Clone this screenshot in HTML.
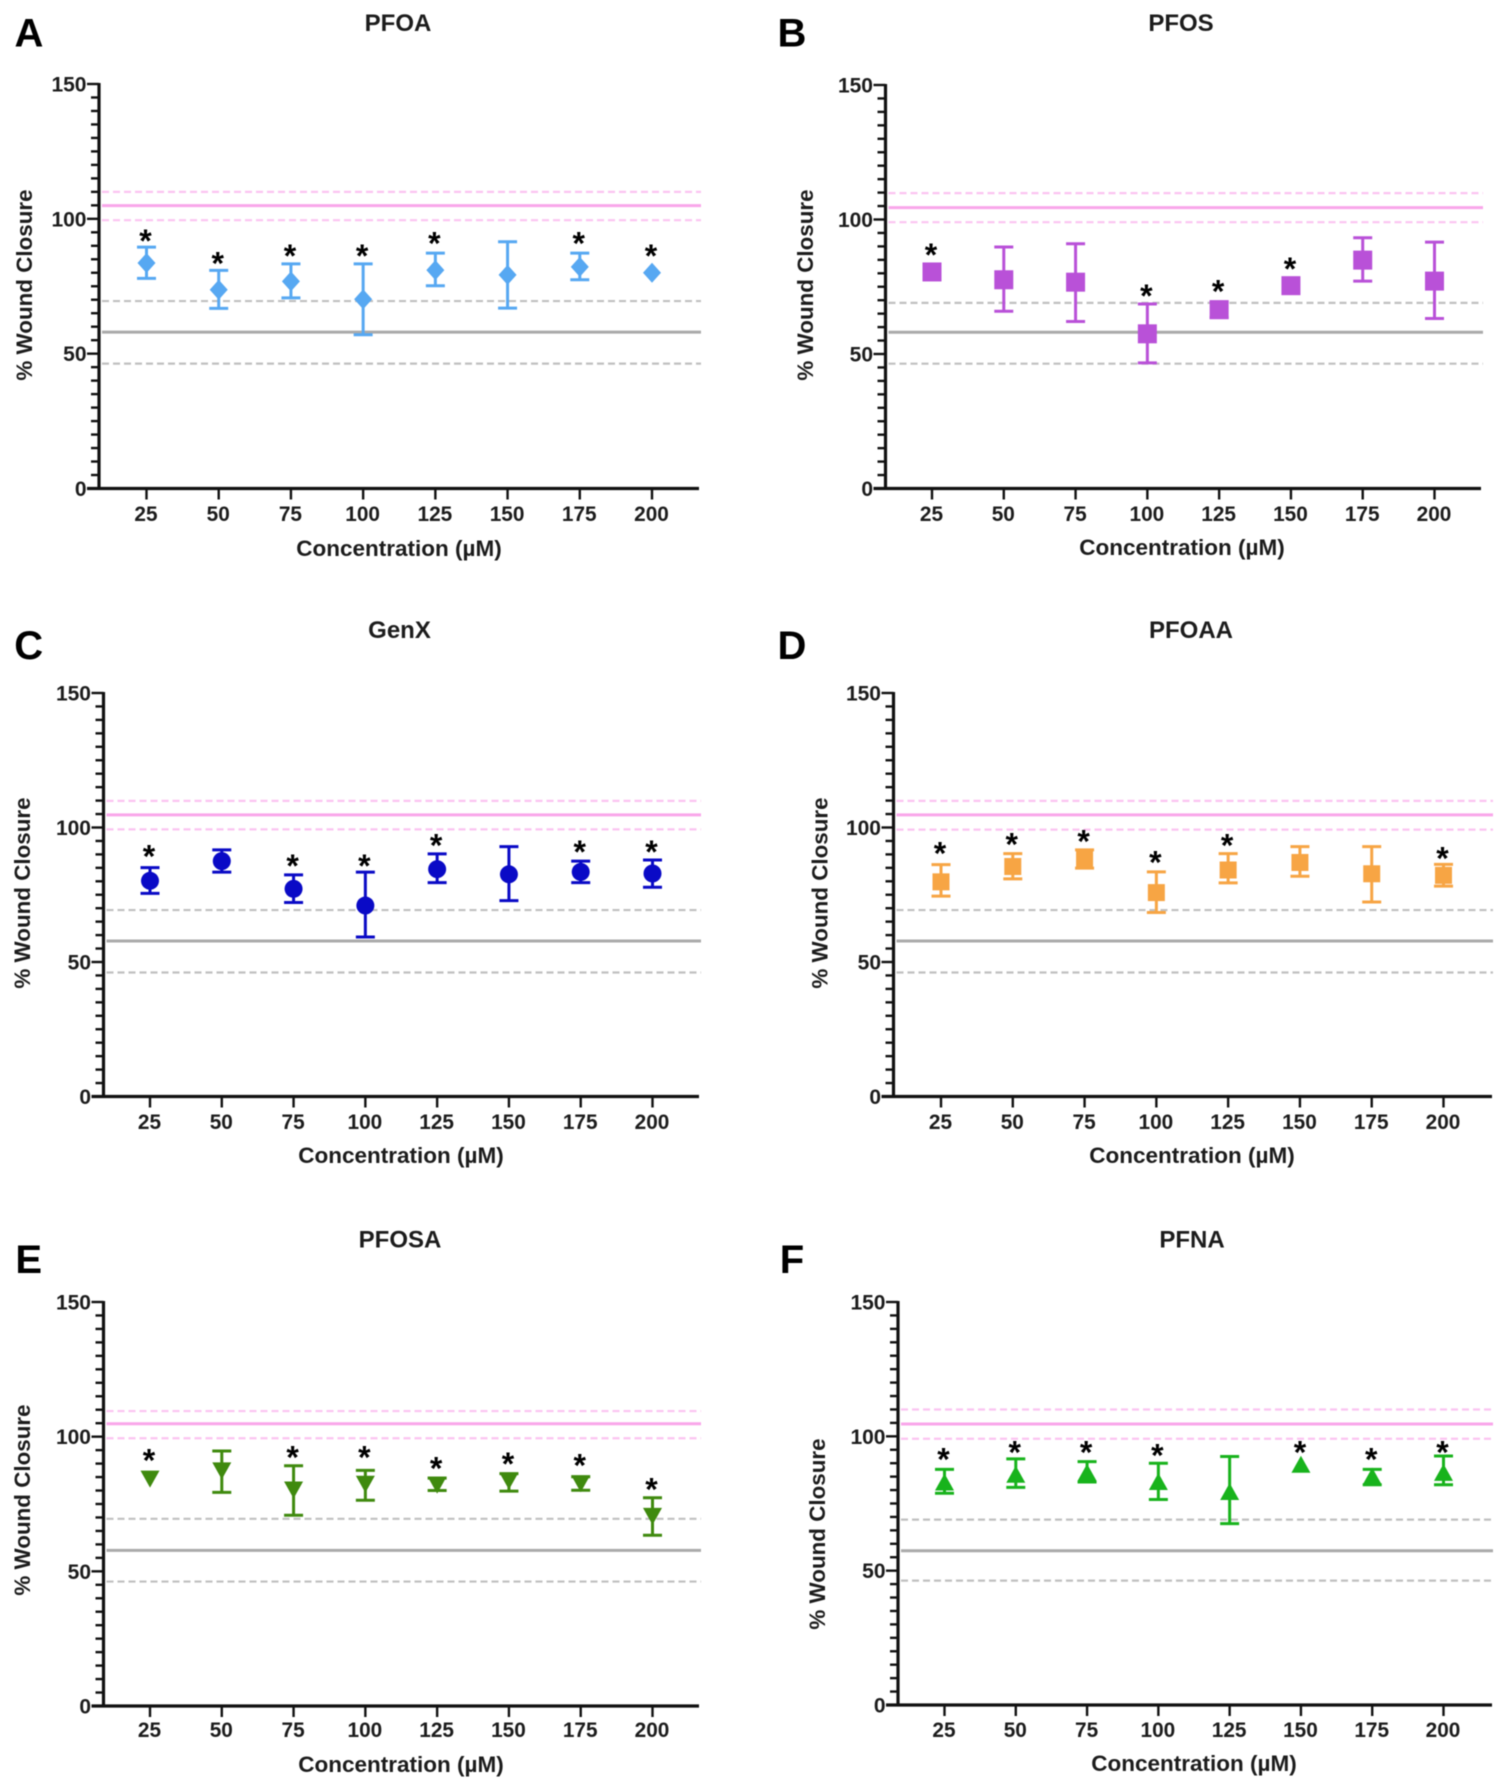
<!DOCTYPE html>
<html>
<head>
<meta charset="utf-8">
<title>Percent wound closure by PFAS compound and concentration</title>
<style>
html,body{margin:0;padding:0;background:#fff;width:1500px;height:1792px;overflow:hidden}
svg{display:block;filter:blur(0.6px)}
text{font-family:"Liberation Sans",Arial,sans-serif;font-weight:bold;fill:#1c1c1c}
</style>
</head>
<body>
<svg id="figure" xmlns="http://www.w3.org/2000/svg" width="1500" height="1792" viewBox="0 0 1500 1792">
<rect x="0" y="0" width="1500" height="1792" fill="#ffffff"/>
</svg>
<script>
// ---- shared axis data ----
const concentrations = [25, 50, 75, 100, 125, 150, 175, 200];
const yTickLabels = [0, 50, 100, 150];
const yMax = 150;
const yMinorStep = 5;

// ---- PFOA ----
const pfoaMean  = [83.6, 73.7, 76.8, 70.2, 81.0, 79.2, 82.2, 80.0];
const pfoaUpper = [89.5, 80.9, 83.3, 83.3, 87.3, 91.5, 87.3, 80.0];
const pfoaLower = [77.9, 66.8, 70.7, 57.0, 75.2, 66.9, 77.4, 80.0];
const pfoaStars = [93.5, 85.1, 87.8, 87.8, 92.5, null, 92.5, 87.8];
const pfoaPinkLines = [110, 104.9, 99.5];
const pfoaGreyLines = [69.5, 58, 46.3];

// ---- PFOS ----
const pfosMean  = [80.5, 77.6, 76.7, 57.5, 66.5, 75.4, 84.9, 77.1];
const pfosUpper = [80.5, 89.8, 91.0, 68.6, 69.3, 75.4, 93.2, 91.6];
const pfosLower = [80.5, 65.9, 62.1, 46.7, 63.5, 75.4, 77.1, 63.2];
const pfosStars = [88.4, null, null, 73.2, 75.0, 83.2, null, null];
const pfosPinkLines = [109.8, 104.4, 99.0];
const pfosGreyLines = [69.0, 58.1, 46.4];

// ---- GenX ----
const genxMean  = [80.2, 87.5, 77.2, 71.0, 84.5, 82.6, 83.5, 82.9];
const genxUpper = [85.1, 91.7, 82.4, 83.4, 90.2, 92.9, 87.5, 87.9];
const genxLower = [75.5, 83.4, 72.1, 59.3, 79.5, 72.8, 79.5, 77.8];
const genxStars = [90.8, null, 87.3, 87.3, 94.9, null, 92.5, 92.5];
const genxPinkLines = [109.9, 104.7, 99.3];
const genxGreyLines = [69.3, 57.8, 46.1];

// ---- PFOAA ----
const pfoaaMean  = [79.8, 85.5, 88.3, 75.8, 84.2, 87.0, 82.8, 82.2];
const pfoaaUpper = [86.2, 90.3, 91.7, 83.5, 90.3, 92.9, 92.9, 86.3];
const pfoaaLower = [74.5, 80.9, 84.9, 68.4, 79.4, 81.9, 72.3, 78.2];
const pfoaaStars = [92.0, 95.3, 96.4, 88.6, 94.9, null, null, 90.2];
const pfoaaPinkLines = [109.9, 104.7, 99.2];
const pfoaaGreyLines = [69.3, 57.8, 46.1];

// ---- PFOSA ----
const pfosaMean  = [84.4, 87.5, 80.4, 82.5, 82.2, 83.7, 82.7, 70.6];
const pfosaUpper = [84.4, 94.7, 89.2, 87.5, 84.6, 86.3, 85.1, 77.3];
const pfosaLower = [84.4, 79.3, 70.8, 76.4, 80.0, 79.8, 80.1, 63.4];
const pfosaStars = [92.9, null, 93.9, 93.9, 89.9, 91.6, 91.0, 82.0];
const pfosaPinkLines = [109.5, 104.8, 99.4];
const pfosaGreyLines = [69.5, 57.8, 46.2];

// ---- PFNA ----
const pfnaMean  = [82.8, 85.7, 86.4, 83.0, 79.3, 89.4, 85.0, 86.4];
const pfnaUpper = [87.7, 91.6, 90.6, 90.0, 92.5, 89.4, 87.7, 92.7];
const pfnaLower = [78.8, 81.0, 83.0, 76.5, 67.5, 89.4, 82.0, 82.0];
const pfnaStars = [93.0, 95.7, 95.7, 94.6, null, 95.7, 93.0, 95.7];
const pfnaPinkLines = [110, 104.6, 99.1];
const pfnaGreyLines = [69.0, 57.4, 46.3];

// ---- panel layout ----
const panels = [
  {key:'pfoa', letter:'A', title:'PFOA', marker:'diamond', color:'#57a8f2', mean:pfoaMean, upper:pfoaUpper, lower:pfoaLower, stars:pfoaStars, pink:pfoaPinkLines, grey:pfoaGreyLines,
   axisX:99, axisEnd:699, x25:146.5, x200:652, y0:488.5, yTop:84, lineEnd:701, letterX:29, letterY:46.7, titleX:398, titleY:31, tickY:521, xTitleX:399, xTitleY:556, yTitleX:32, yTitleY:285},
  {key:'pfos', letter:'B', title:'PFOS', marker:'square', color:'#b951d8', mean:pfosMean, upper:pfosUpper, lower:pfosLower, stars:pfosStars, pink:pfosPinkLines, grey:pfosGreyLines,
   axisX:885.5, axisEnd:1481, x25:932, x200:1434.5, y0:488.5, yTop:85, lineEnd:1483, letterX:792, letterY:46.7, titleX:1181, titleY:31, tickY:521, xTitleX:1182, xTitleY:555, yTitleX:813, yTitleY:285},
  {key:'genx', letter:'C', title:'GenX', marker:'circle', color:'#0a0ac6', mean:genxMean, upper:genxUpper, lower:genxLower, stars:genxStars, pink:genxPinkLines, grey:genxGreyLines,
   axisX:103.5, axisEnd:699, x25:150, x200:652.5, y0:1096.5, yTop:693, lineEnd:701, letterX:28.7, letterY:659, titleX:399.5, titleY:638, tickY:1129, xTitleX:401, xTitleY:1163, yTitleX:30, yTitleY:893},
  {key:'pfoaa', letter:'D', title:'PFOAA', marker:'square-small', color:'#f7a544', mean:pfoaaMean, upper:pfoaaUpper, lower:pfoaaLower, stars:pfoaaStars, pink:pfoaaPinkLines, grey:pfoaaGreyLines,
   axisX:893.5, axisEnd:1492, x25:941, x200:1443.5, y0:1096.5, yTop:693, lineEnd:1493, letterX:792, letterY:659, titleX:1191, titleY:638, tickY:1129, xTitleX:1192, xTitleY:1163, yTitleX:827.5, yTitleY:893},
  {key:'pfosa', letter:'E', title:'PFOSA', marker:'triangle-down', color:'#3f8a0e', mean:pfosaMean, upper:pfosaUpper, lower:pfosaLower, stars:pfosaStars, pink:pfosaPinkLines, grey:pfosaGreyLines,
   axisX:103.5, axisEnd:699, x25:150, x200:652.5, y0:1706, yTop:1302, lineEnd:701, letterX:28.7, letterY:1273, titleX:400, titleY:1247.5, tickY:1737, xTitleX:401, xTitleY:1772, yTitleX:30, yTitleY:1500},
  {key:'pfna', letter:'F', title:'PFNA', marker:'triangle-up', color:'#18b31c', mean:pfnaMean, upper:pfnaUpper, lower:pfnaLower, stars:pfnaStars, pink:pfnaPinkLines, grey:pfnaGreyLines,
   axisX:898, axisEnd:1492, x25:944.5, x200:1443.5, y0:1705, yTop:1302, lineEnd:1493, letterX:792, letterY:1273, titleX:1192, titleY:1247.5, tickY:1737, xTitleX:1194, xTitleY:1771, yTitleX:825, yTitleY:1534}
];

const SVGNS = 'http://www.w3.org/2000/svg';
const figure = document.getElementById('figure');

function make(tag, parent, attrs, text) {
  const el = document.createElementNS(SVGNS, tag);
  for (const k in attrs) el.setAttribute(k, attrs[k]);
  if (text !== undefined) el.textContent = text;
  parent.appendChild(el);
  return el;
}

function drawMarker(parent, type, cx, cy, color) {
  let el;
  if (type === 'circle') {
    el = make('circle', parent, {cx: cx, cy: cy, r: 9, fill: color});
  } else if (type === 'square' || type === 'square-small') {
    const h = type === 'square' ? 9.5 : 8.5;
    el = make('rect', parent, {x: cx - h, y: cy - h, width: 2 * h, height: 2 * h, fill: color});
  } else if (type === 'diamond') {
    el = make('polygon', parent, {points: [cx, cy - 10, cx + 9, cy, cx, cy + 10, cx - 9, cy].join(' '), fill: color});
  } else if (type === 'triangle-down') {
    el = make('polygon', parent, {points: [cx - 9.5, cy - 8, cx + 9.5, cy - 8, cx, cy + 9].join(' '), fill: color});
  } else {
    el = make('polygon', parent, {points: [cx - 9.5, cy + 8, cx + 9.5, cy + 8, cx, cy - 9].join(' '), fill: color});
  }
  return el;
}

panels.forEach(function (p) {
  const xScale = function (c) { return p.x25 + (c - concentrations[0]) * (p.x200 - p.x25) / (concentrations[concentrations.length - 1] - concentrations[0]); };
  const yScale = function (v) { return p.y0 - v * (p.y0 - p.yTop) / yMax; };

  const g = make('g', figure, {});
  
  

  const letter = make('text', g, {x: p.letterX, y: p.letterY, 'text-anchor': 'middle', 'font-size': 40, style: 'fill:#000'}, p.letter);
  
  

  const title = make('text', g, {x: p.titleX, y: p.titleY, 'text-anchor': 'middle', 'font-size': 24}, p.title);
  
  

  // reference bands
  p.pink.forEach(function (v, i) {
    const solid = i === 1;
    const l = make('line', g, {x1: p.axisX + 3, x2: p.lineEnd, y1: yScale(v), y2: yScale(v), stroke: solid ? '#f9a6ea' : '#fbc4f1', 'stroke-width': solid ? 3 : 2.2, 'stroke-dasharray': solid ? 'none' : '7 4'});
    
    
  });
  p.grey.forEach(function (v, i) {
    const solid = i === 1;
    const l = make('line', g, {x1: p.axisX + 3, x2: p.lineEnd, y1: yScale(v), y2: yScale(v), stroke: solid ? '#aaaaaa' : '#c0c0c0', 'stroke-width': solid ? 3 : 2.2, 'stroke-dasharray': solid ? 'none' : '7 4'});
    
    
  });

  // y axis
  const yAxis = make('line', g, {x1: p.axisX, x2: p.axisX, y1: p.yTop - 1, y2: p.y0 + 1.5, stroke: '#111', 'stroke-width': 3.2});
  
  
  for (let v = 0; v <= yMax; v += yMinorStep) {
    const major = yTickLabels.indexOf(v) >= 0;
    const t = make('line', g, {x1: p.axisX - (major ? 12 : 8), x2: p.axisX, y1: yScale(v), y2: yScale(v), stroke: '#111', 'stroke-width': 2.4});
    
    
  }
  yTickLabels.forEach(function (v) {
    const t = make('text', g, {x: p.axisX - 12.5, y: yScale(v) + 7.5, 'text-anchor': 'end', 'font-size': 21}, String(v));
    
    
  });
  const yTitle = make('text', g, {x: 0, y: 0, 'text-anchor': 'middle', 'font-size': 22.4, transform: 'translate(' + p.yTitleX + ',' + p.yTitleY + ') rotate(-90)'}, '% Wound Closure');
  
  

  // x axis
  const xAxis = make('line', g, {x1: p.axisX - 12, x2: p.axisEnd, y1: p.y0, y2: p.y0, stroke: '#111', 'stroke-width': 3.2});
  
  
  concentrations.forEach(function (c) {
    const t = make('line', g, {x1: xScale(c), x2: xScale(c), y1: p.y0, y2: p.y0 + 11, stroke: '#111', 'stroke-width': 2.4});
    
    
    const lab = make('text', g, {x: xScale(c) - 0.5, y: p.tickY, 'text-anchor': 'middle', 'font-size': 20.8}, String(c));
    
    
  });
  const xTitle = make('text', g, {x: p.xTitleX, y: p.xTitleY, 'text-anchor': 'middle', 'font-size': 22.5}, 'Concentration (\u00B5M)');
  
  

  // data
  concentrations.forEach(function (c, i) {
    const cx = xScale(c);
    const pg = make('g', g, {});
    
    
    if (p.upper[i] !== p.lower[i]) {
      const stem = make('line', pg, {x1: cx, x2: cx, y1: yScale(p.upper[i]), y2: yScale(p.lower[i]), stroke: p.color, 'stroke-width': 3});
      
      
      const capTop = make('line', pg, {x1: cx - 9.5, x2: cx + 9.5, y1: yScale(p.upper[i]), y2: yScale(p.upper[i]), stroke: p.color, 'stroke-width': 3});
      
      
      const capBottom = make('line', pg, {x1: cx - 9.5, x2: cx + 9.5, y1: yScale(p.lower[i]), y2: yScale(p.lower[i]), stroke: p.color, 'stroke-width': 3});
      
      
    }
    const m = drawMarker(pg, p.marker, cx, yScale(p.mean[i]), p.color);
    
    
    if (p.stars[i] !== null) {
      const s = make('text', pg, {x: cx - 1, y: yScale(p.stars[i]) + 15.5, 'text-anchor': 'middle', 'font-size': 32, style: 'fill:#000'}, '*');
      
      
    }
  });
});
</script>
</body>
</html>
